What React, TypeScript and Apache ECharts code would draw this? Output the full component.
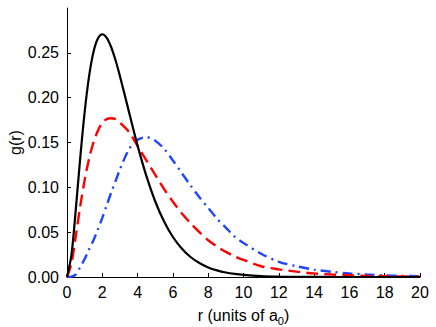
import React, { useEffect, useRef } from "react";
import * as echarts from "echarts";

const rValues = [0, 0.25, 0.5, 0.75, 1, 1.25, 1.5, 1.75, 2, 2.25, 2.5, 2.75, 3, 3.5, 4, 4.5, 5, 5.5, 6, 6.5, 7, 7.5, 8, 8.5, 9, 9.5, 10, 11, 12, 13, 14, 15, 16, 17, 18, 19, 20];

const blackValues = [0, 0.0243, 0.0758, 0.1329, 0.1839, 0.2238, 0.251, 0.2661, 0.2707, 0.2668, 0.2565, 0.2417, 0.224, 0.185, 0.1465, 0.1125, 0.0842, 0.0618, 0.0446, 0.0318, 0.0223, 0.0156, 0.0107, 0.0074, 0.005, 0.0034, 0.0023, 0.001, 0.0004, 0.0002, 0.0001, 0, 0, 0, 0, 0, 0];

const redValues = [0, 0.015, 0.046, 0.079, 0.108, 0.132, 0.15, 0.163, 0.172, 0.176, 0.177, 0.176, 0.172, 0.162, 0.146, 0.13, 0.114, 0.098, 0.084, 0.071, 0.06, 0.05, 0.041, 0.034, 0.028, 0.023, 0.019, 0.012, 0.0085, 0.006, 0.004, 0.0028, 0.002, 0.0013, 0.0009, 0.0006, 0.0004];

const blueValues = [0, 0.0005, 0.003, 0.011, 0.02, 0.031, 0.041, 0.053, 0.066, 0.08, 0.094, 0.107, 0.12, 0.142, 0.153, 0.156, 0.152, 0.143, 0.13, 0.116, 0.102, 0.089, 0.077, 0.065, 0.055, 0.045, 0.038, 0.026, 0.017, 0.012, 0.0082, 0.0058, 0.004, 0.0028, 0.0019, 0.0013, 0.0009];

const FONT = "'Liberation Sans', Arial, Helvetica, sans-serif";

function pairs(ys: number[]) {
  return rValues.map((r, i) => [r, ys[i]]);
}

export default function App() {
  const ref = useRef<HTMLDivElement>(null);
  useEffect(() => {
    if (!ref.current) return;
    const chart = echarts.init(ref.current, undefined, { renderer: "svg" });
    const axisCommon = {
      axisLine: { show: true, lineStyle: { color: "#000", width: 1 } },
      axisTick: { show: true, inside: true, length: 4, lineStyle: { color: "#000" } },
      splitLine: { show: false },
      axisLabel: { color: "#000", fontSize: 16, fontFamily: FONT },
      nameTextStyle: { color: "#000", fontSize: 16, fontFamily: FONT },
    };
    chart.setOption({
      animation: false,
      backgroundColor: "#fff",
      grid: { left: 67, right: 16, top: 8, bottom: 50, containLabel: false, outerBoundsMode: "none" },
      xAxis: {
        type: "value",
        min: 0,
        max: 20,
        interval: 2,
        ...axisCommon,
        axisLabel: { ...axisCommon.axisLabel, margin: 7 },
        name: "{a|r (units of a}{sub|0}{a|)}",
        nameLocation: "middle",
        nameGap: 27,
        nameMoveOverlap: false,
        nameTextStyle: {
          ...axisCommon.nameTextStyle,
          rich: {
            a: { fontSize: 16, fontFamily: FONT, color: "#000" },
            sub: { fontSize: 11, fontFamily: FONT, color: "#000", padding: [11, 0, 0, 0] },
          },
        },
      },
      yAxis: {
        type: "value",
        min: 0,
        max: 0.3,
        interval: 0.05,
        ...axisCommon,
        axisLabel: {
          ...axisCommon.axisLabel,
          margin: 8,
          showMaxLabel: false,
          formatter: (v: number) => v.toFixed(2),
        },
        name: "g(r)",
        nameLocation: "middle",
        nameGap: 44,
        nameMoveOverlap: false,
      },
      series: [
        {
          type: "line",
          data: pairs(blueValues),
          showSymbol: false,
          smooth: 0.3,
          lineStyle: { color: "#1f45ff", width: 2.4, type: [10, 5, 2, 5] },
          z: 1,
        },
        {
          type: "line",
          data: pairs(redValues),
          showSymbol: false,
          smooth: 0.3,
          lineStyle: { color: "#ff0000", width: 2.4, type: [12, 6] },
          z: 2,
        },
        {
          type: "line",
          data: pairs(blackValues),
          showSymbol: false,
          smooth: 0.3,
          lineStyle: { color: "#000", width: 2.2, type: "solid" },
          z: 3,
        },
      ],
    });
    return () => chart.dispose();
  }, []);
  return (
    <div
      ref={ref}
      style={{ position: "fixed", left: 0, top: 0, width: 436, height: 327, background: "#fff" }}
    />
  );
}
